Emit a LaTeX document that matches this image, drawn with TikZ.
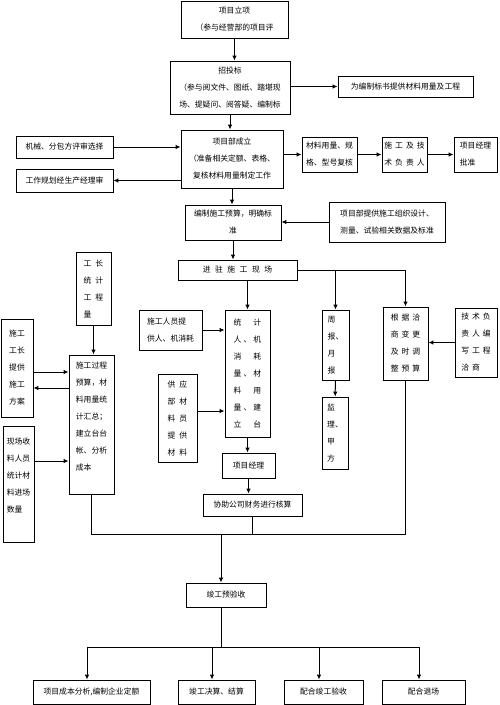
\documentclass[tikz,border=0pt]{standalone}
\usepackage{fontspec}
\setmainfont{Noto Sans CJK SC}
\usetikzlibrary{arrows.meta,calc}

\begin{document}
\begin{tikzpicture}[x=1pt,y=-1pt,
  box/.style={draw,line width=0.8pt,inner sep=1pt,align=center,
    font=\fontsize{7.8}{17}\selectfont},
  arr/.style={-{Latex[length=5pt,width=4.5pt]},line width=1pt},
  conn/.style={line width=1pt}]
  % Parameters
  \def\ls{\hspace{3pt}}
  \def\ws{\hspace{4.5pt}}

  \useasboundingbox (0,0) rectangle (500,705);

  % Top column
  \node[box,minimum width=107,minimum height=37] (lixiang) at (234.5,19.5) {项目立项\\（参与经营部的项目评};
  \node[box,minimum width=120,minimum height=53] (toubiao) at (230,87.5) {招投标\\（参与阅文件、图纸、踏堪现\\场、提疑问、阅答疑、编制标};
  \node[box,minimum width=135,minimum height=21] (biaoshu) at (405.5,86.5) {为编制标书提供材料用量及工程};
  \node[box,minimum width=102,minimum height=58] (xmb) at (232,159) {项目部成立\\（准备相关定额、表格、\\复核材料用量制定工作};

  % Left and right of the project department
  \node[box,minimum width=97,minimum height=22] (jixie) at (64.5,147) {机械、分包方评审选择};
  \node[box,minimum width=97,minimum height=23] (guihua) at (64.5,180.5) {工作规划经生产经理审};
  \node[box,minimum width=55,minimum height=35] (cailiao) at (329.5,154.5) {材料用量、规\\格、型号复核};
  \node[box,minimum width=45,minimum height=35] (jishu) at (404.5,154.5) {施\ls 工\ls 及\ls 技\\术\ls 负\ls 责\ls 人};
  \node[box,minimum width=43,minimum height=35,align=left] (pizhun) at (475.5,154.5) {项目经理\\批准};

  % Budget
  \node[box,minimum width=96,minimum height=35] (yusuan) at (233,222.5) {编制施工预算，明确标\\准};
  \node[box,minimum width=116,minimum height=40] (zuzhi) at (387,222) {项目部提供施工组织设计、\\测量、试验相关数据及标准};
  \node[box,minimum width=119,minimum height=20] (jinzhu) at (237.5,270) {进\ws 驻\ws 施\ws 工\ws 现\ws 场};

  % Left branch
  \node[box,minimum width=35,minimum height=73,align=left] (gongzhang) at (93.5,288.5) {工\hspace{4pt}长\\统\hspace{4pt}计\\工\hspace{4pt}程\\量};
  \node[box,minimum width=45,minimum height=139,align=left] (guocheng) at (91.5,424.5) {施工过程\\预算，材\\料用量统\\计汇总；\\建立台台\\帐、分析\\成本\\~};
  \node[box,minimum width=32,minimum height=98,align=left] (fangan) at (17,368) {施工\\工长\\提供\\施工\\方案};
  \node[box,minimum width=31,minimum height=116,align=left] (shouliao) at (18.5,484) {现场收\\料人员\\统计材\\料进场\\数量\\~};

  % Middle branch
  \node[box,minimum width=63,minimum height=40,align=left] (renyuan) at (170.5,330) {施工人员提\\供人、机消耗};
  \node[box,minimum width=45,minimum height=127] (tongji) at (247.5,373.5) {统\makebox[12pt]{}计\\人\makebox[12pt]{、}机\\消\makebox[12pt]{}耗\\量\makebox[12pt]{、}材\\料\makebox[12pt]{}用\\量\makebox[12pt]{、}建\\立\makebox[12pt]{}台};
  \node[box,minimum width=39,minimum height=88] (gongying) at (177.5,418) {供\hspace{4pt}应\\部\hspace{4pt}材\\料\hspace{4pt}员\\提\hspace{4pt}供\\材\hspace{4pt}料};
  \node[box,minimum width=53,minimum height=25] (jingli) at (248.5,465.5) {项目经理};
  \node[box,minimum width=99,minimum height=22] (hesuan) at (252.5,505) {协助公司财务进行核算};

  % Right branches
  \node[box,minimum width=27,minimum height=70,align=left] (zhoubao) at (335.5,345) {周\\报、\\月\\报};
  \node[box,minimum width=26,minimum height=72,align=left] (jianli) at (335,433) {监\\理、\\甲\\方};
  \node[box,minimum width=45,minimum height=73] (qiashang) at (405.5,343.5) {根\ls 据\ls 洽\\商\ls 变\ls 更\\及\ls 时\ls 调\\整\ls 预\ls 算};
  \node[box,minimum width=42,minimum height=69,align=left] (bianxie) at (476,342.5) {技\ls 术\ls 负\\责\ls 人\ls 编\\写\ls 工\ls 程\\洽\ls 商};

  % Completion
  \node[box,minimum width=80,minimum height=24] (yanshou) at (226,595) {竣工预验收};
  \node[box,minimum width=117,minimum height=24] (fenxi) at (91.5,692) {项目成本分析,编制企业定额};
  \node[box,minimum width=77,minimum height=24] (jiesuan) at (216.5,692) {竣工决算、结算};
  \node[box,minimum width=79,minimum height=24] (peihe) at (323.5,692) {配合竣工验收};
  \node[box,minimum width=83,minimum height=24] (tuichang) at (423.5,692) {配合退场};

  % Connectors, top part
  \draw[arr] (lixiang.south) -- (lixiang.south |- toubiao.north);
  \draw[arr] (toubiao.east |- biaoshu.west) -- (biaoshu.west);
  \draw[arr] (toubiao.south) -- (toubiao.south |- xmb.north);
  \draw[arr] (jixie.east) -- (jixie.east -| xmb.west);
  \draw[arr] (xmb.west |- guihua.east) -- (guihua.east);
  \draw[arr] (xmb.east |- cailiao.west) -- (cailiao.west);
  \draw[arr] (cailiao) -- (jishu);
  \draw[arr] (jishu) -- (pizhun);
  \draw[arr] (xmb.south) -- (xmb.south |- yusuan.north);
  \draw[arr] (zuzhi.west) -- (zuzhi.west -| yusuan.east);
  \draw[arr] (yusuan.south) -- (yusuan.south |- jinzhu.north);

  % Connectors, site
  \draw[arr] (tongji.north |- jinzhu.south) -- (tongji.north);
  \draw[arr] (jinzhu.east) -| (qiashang.north);
  \draw[arr] (zhoubao.north |- jinzhu.east) -- (zhoubao.north);
  \draw[arr] (zhoubao) -- (jianli);
  \draw[arr] (bianxie.west) -- (bianxie.west -| qiashang.east);
  \draw[arr] (renyuan.east) -- (renyuan.east -| tongji.west);
  \coordinate (gy) at ($(gongying.east)+(0,-7)$);
  \draw[arr] (gy) -- (gy -| tongji.west);
  \draw[arr] (tongji.south) -- (tongji.south |- jingli.north);
  \draw[arr] (jingli.south) -- (jingli.south |- hesuan.north);

  % Connectors, left
  \draw[arr] (gongzhang.south) -- (gongzhang.south |- guocheng.north);
  \coordinate (fa1) at ($(fangan.east)+(0,4)$);
  \coordinate (fa2) at ($(fangan.east)+(0,20)$);
  \coordinate (sl) at ($(shouliao.east)+(0,-23)$);
  \draw[arr] (fa1) -- (fa1 -| guocheng.west);
  \draw[arr] (fa2 -| guocheng.west) -- (fa2);
  \draw[arr] (sl) -- (sl -| guocheng.west);

  % Merge and split
  \coordinate (merge) at (221,534);
  \coordinate (split) at (221,647);
  \draw[conn] (guocheng.south) |- (qiashang.south |- merge) -- (qiashang.south);
  \draw[conn] (hesuan.south) -- (hesuan.south |- merge);
  \draw[arr] (merge) -- (merge |- yanshou.north);
  \draw[conn] (split |- yanshou.south) -- (split);
  \foreach \n in {fenxi,jiesuan,peihe,tuichang}
    \coordinate (t\n) at ([xshift=-4.5pt]\n.north);
  \draw[conn] (tfenxi |- split) -- (ttuichang |- split);
  \foreach \n in {fenxi,jiesuan,peihe,tuichang}
    \draw[arr] (t\n |- split) -- (t\n);
\end{tikzpicture}
\end{document}
